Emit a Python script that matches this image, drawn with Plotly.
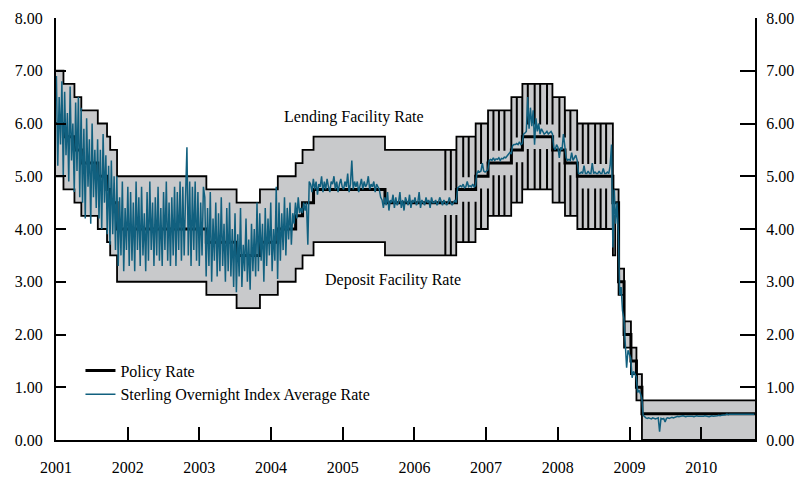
import pandas as pd
import plotly.graph_objects as go

# ---------------- data ----------------
policy_dates = ["2001-01-01", "2001-02-08", "2001-04-05", "2001-05-10", "2001-08-02",
                "2001-09-18", "2001-10-04", "2001-11-08", "2003-02-06", "2003-07-10",
                "2003-11-06", "2004-02-05", "2004-05-06", "2004-06-10", "2004-08-05",
                "2005-08-04", "2006-08-03", "2006-11-09", "2007-01-11", "2007-05-10",
                "2007-07-05", "2007-12-06", "2008-02-07", "2008-04-10", "2008-10-08",
                "2008-11-06", "2008-12-04", "2009-01-08", "2009-02-05", "2009-03-05"]
policy_rates = [6.00, 5.75, 5.50, 5.25, 5.00, 4.75, 4.50, 4.00, 3.75, 3.50,
                3.75, 4.00, 4.25, 4.50, 4.75, 4.50, 4.75, 5.00, 5.25, 5.50,
                5.75, 5.50, 5.25, 5.00, 4.50, 3.00, 2.00, 1.50, 1.00, 0.50]

# standing facility corridor regimes
regime_starts = ["2001-01-01", "2006-05-18", "2008-10-08", "2008-10-20", "2009-03-05"]
lending_spread = [1.00, 1.00, 0.25, 0.25, 0.25]
deposit_spread = [1.00, 1.00, 1.00, 0.25, 0.50]
# last day of reserves maintenance periods (corridor narrowed to +/-0.25)
mp_end_dates = ["2006-06-07", "2006-07-05", "2006-08-02", "2006-09-06", "2006-10-04",
                "2006-11-08", "2006-12-06", "2007-01-10", "2007-02-07", "2007-03-07",
                "2007-04-04", "2007-05-09", "2007-06-06", "2007-07-04", "2007-08-01",
                "2007-09-05", "2007-10-03", "2007-11-07", "2007-12-05", "2008-01-09",
                "2008-02-06", "2008-03-05", "2008-04-09", "2008-05-07", "2008-06-04",
                "2008-07-09", "2008-08-06", "2008-09-03"]
dip_spread = 0.25
end_date = "2010-10-02"

# SONIA, weekly readings by segment
sonia_a_start = "2001-01-03"
sonia_a = [6.9, 5.2, 6.5, 5.6, 6.8,
           5.0, 6.6, 5.4, 6.2, 4.9, 6.7, 5.3, 6.0,
           4.7, 6.4, 5.1, 6.5, 4.6,
           6.3, 4.5, 5.9, 4.2, 6.1, 4.8, 5.7, 4.1, 6.0, 4.6, 5.5, 4.4,
           5.7, 4.2, 5.5, 4.0, 5.8, 4.5,
           5.4, 3.9, 5.2,
           3.7, 5.3, 3.9, 5.0, 3.6,
           5.0, 3.3, 4.6, 3.5, 4.9, 3.2, 4.4, 3.6, 4.8, 3.3,
           4.7, 3.4, 4.5, 3.2, 4.9, 3.6, 4.6, 3.3, 4.8, 3.5,
           4.3, 3.2, 4.7, 3.4, 4.9, 3.6, 4.5, 3.3, 4.6, 3.5,
           4.8, 3.4, 4.4, 3.3, 4.7, 3.6, 4.9, 3.4, 4.5, 3.3,
           4.6, 3.5, 4.8, 3.3, 4.7, 3.6, 4.9, 3.4, 4.8, 3.5,
           4.6, 5.55, 3.5, 4.9, 3.3, 4.8, 3.6, 4.9, 3.4, 4.7,
           3.3, 4.5, 3.5, 4.8,
           4.6, 3.1, 4.4, 3.3, 4.7, 3.0, 4.2, 3.4, 4.5, 3.1, 4.3, 3.2, 4.6, 3.3,
           4.1, 3.0, 4.4, 3.2, 4.5, 3.1, 4.0, 2.9,
           4.3, 2.8, 3.9, 3.1, 4.4, 2.9, 3.7, 3.2, 4.2, 3.0, 3.8, 2.85, 4.1, 3.2,
           4.0, 3.1, 4.5,
           3.2, 4.3, 3.4, 4.1, 3.0, 4.4, 3.3, 4.2, 3.5, 4.5, 3.2, 4.0, 3.4,
           4.8, 3.05, 4.5, 3.4, 4.3, 3.6, 4.6, 3.5, 4.4, 3.8, 4.5, 3.7, 4.3,
           4.1, 4.5, 4.2, 4.6, 4.3,
           4.4, 4.3, 4.5, 4.35, 4.5, 3.7, 4.9]
sonia_b_start = "2004-07-21"
sonia_b = [4.85, 4.7, 4.95, 4.75, 4.9, 4.65, 4.85, 4.8, 5.0, 4.7,
           4.9, 4.75, 4.95, 4.8, 4.7, 4.9, 4.85, 5.0, 4.75, 4.9,
           4.7, 4.85, 4.95, 4.8, 4.75, 4.9, 4.8, 5.05, 4.7, 4.85,
           5.3, 4.75, 4.9, 4.8, 4.9, 4.7, 4.85, 4.95, 4.75, 4.9,
           4.8, 4.85, 5.0, 4.75, 4.85, 4.8, 4.9, 4.7, 4.85, 4.8,
           4.75, 4.6,
           4.55, 4.4, 4.6, 4.45, 4.7, 4.35, 4.55, 4.5, 4.65, 4.4,
           4.6, 4.45, 4.5, 4.7, 4.4, 4.55, 4.35, 4.6, 4.5, 4.45,
           4.65, 4.4, 4.55, 4.5, 4.6, 4.45, 4.5, 4.7, 4.4, 4.55,
           4.5, 4.45, 4.6, 4.5, 4.55, 4.4, 4.6, 4.5, 4.5, 4.55,
           4.45, 4.5, 4.6]
sonia_c_start = "2006-05-17"
sonia_c = [4.5, 4.45, 4.55, 4.5, 4.45, 4.5, 4.6, 4.5, 4.45, 4.5, 4.55, 4.5,
           4.78, 4.8, 4.82, 4.8, 4.85, 4.78, 4.8, 4.9, 4.8, 4.82, 4.8, 4.85, 4.8, 4.82,
           5.05, 5.1, 5.08, 5.1, 5.25, 5.1, 5.08, 5.1, 5.12,
           5.3, 5.32, 5.3, 5.35, 5.3, 5.33, 5.32, 5.35, 5.3, 5.34, 5.33, 5.36, 5.35,
           5.38, 5.4, 5.45, 5.42,
           5.58, 5.6, 5.6, 5.62, 5.6, 5.65, 5.6, 5.62,
           5.8, 5.82, 5.85, 6.5, 5.9, 6.3, 5.95, 6.25, 5.6, 6.1, 5.85, 6.0, 5.8, 5.9,
           5.85, 5.8, 5.82, 5.85, 5.8, 5.82, 5.85, 5.8,
           5.55, 5.5, 5.6, 5.55, 5.35, 5.55, 5.5, 5.8, 5.55,
           5.35, 5.3, 5.32, 5.3, 5.45, 5.3, 5.35, 5.4, 5.3,
           5.05, 5.05, 5.08, 5.05, 5.2, 5.05, 5.05, 5.1, 5.05, 5.05, 5.25, 5.05, 5.08,
           5.05, 5.05, 5.1, 5.05, 5.05, 5.15, 5.05, 5.05, 5.08, 5.05, 5.2, 5.6]
sonia_d_start = "2008-10-08"
sonia_d = [3.65, 4.75, 4.1, 4.5, 3.9, 2.75, 2.9, 2.45, 2.3, 1.75, 1.37, 1.7, 1.6,
           1.55, 1.18, 1.3, 1.25, 1.2, 0.9, 0.95, 0.88, 0.8]
sonia_e_start = "2009-03-11"
sonia_e = [0.47, 0.44, 0.42, 0.41, 0.42, 0.41, 0.40, 0.42, 0.41, 0.40, 0.41, 0.42,
           0.16, 0.41, 0.40, 0.41, 0.34, 0.41, 0.42, 0.41, 0.42, 0.43, 0.42, 0.43, 0.44,
           0.45, 0.44, 0.45, 0.45, 0.46, 0.45, 0.44, 0.45, 0.45, 0.46, 0.45, 0.45, 0.44,
           0.45, 0.46, 0.45, 0.45, 0.44, 0.45, 0.45, 0.46, 0.45, 0.45, 0.44, 0.45, 0.46,
           0.45, 0.45, 0.46, 0.46, 0.47, 0.46, 0.47, 0.47, 0.48,
           0.48, 0.49, 0.48, 0.49, 0.49, 0.48, 0.49, 0.49, 0.48, 0.49, 0.49, 0.49,
           0.48, 0.49, 0.49, 0.49, 0.48, 0.49, 0.49, 0.49, 0.48, 0.49]

year_ticks = list(range(2001, 2011))
y_ticks = [0, 1, 2, 3, 4, 5, 6, 7, 8]
y_ticktext = [f"{v:.2f}" for v in y_ticks]

# ---------------- build series ----------------
pol = pd.Series(policy_rates, index=pd.to_datetime(policy_dates))
reg = pd.to_datetime(regime_starts)
mp = pd.to_datetime(mp_end_dates)
one_day = pd.Timedelta(days=1)
end = pd.Timestamp(end_date)

events = set(pol.index) | set(reg) | set(mp) | set(mp + one_day) | {end}
events = sorted(events)
band_x, lend_y, dep_y = [], [], []
for d in events:
    p = pol.asof(d)
    r = max(i for i, s in enumerate(reg) if s <= d)
    dip = any((m <= d) and (d < m + one_day) for m in mp) and r == 1
    ls = dip_spread if dip else lending_spread[r]
    ds = dip_spread if dip else deposit_spread[r]
    band_x.append(d)
    lend_y.append(p + ls)
    dep_y.append(p - ds)

pol_x = list(pol.index) + [end]
pol_y = list(pol.values) + [pol.values[-1]]

sonia_x, sonia_y = [], []
for start, vals in [(sonia_a_start, sonia_a), (sonia_b_start, sonia_b),
                    (sonia_c_start, sonia_c), (sonia_d_start, sonia_d),
                    (sonia_e_start, sonia_e)]:
    sonia_x += list(pd.date_range(start, periods=len(vals), freq="7D"))
    sonia_y += vals

# ---------------- figure ----------------
FONT = "Liberation Serif"
GRAY = "#c8c9cb"
TEAL = "#11607f"

fig = go.Figure()
fig.add_trace(go.Scatter(x=band_x, y=dep_y, mode="lines", line=dict(width=0, shape="hv"),
                         showlegend=False, hoverinfo="skip"))
fig.add_trace(go.Scatter(x=band_x, y=lend_y, mode="lines", line=dict(width=0, shape="hv"),
                         fill="tonexty", fillcolor=GRAY, showlegend=False, hoverinfo="skip"))
fig.add_trace(go.Scatter(x=band_x, y=lend_y, mode="lines",
                         line=dict(color="black", width=1.8, shape="hv"),
                         showlegend=False, hoverinfo="skip"))
fig.add_trace(go.Scatter(x=band_x, y=dep_y, mode="lines",
                         line=dict(color="black", width=1.8, shape="hv"),
                         showlegend=False, hoverinfo="skip"))
fig.add_trace(go.Scatter(x=pol_x, y=pol_y, mode="lines", name="Policy Rate",
                         line=dict(color="black", width=3, shape="hv")))
fig.add_trace(go.Scatter(x=sonia_x, y=sonia_y, mode="lines",
                         name="Sterling Overnight Index Average Rate",
                         line=dict(color=TEAL, width=1.5)))
# anchor trace for right axis
fig.add_trace(go.Scatter(x=[pol_x[0]], y=[0], yaxis="y2", mode="lines",
                         line=dict(width=0), showlegend=False, hoverinfo="skip"))

fig.add_annotation(x="2005-03-01", y=6.12, text="Lending Facility Rate", showarrow=False,
                   font=dict(family=FONT, size=16, color="black"))
fig.add_annotation(x="2005-09-15", y=3.04, text="Deposit Facility Rate", showarrow=False,
                   font=dict(family=FONT, size=16, color="black"))

axis_font = dict(family=FONT, size=16, color="black")
# the page body adds an 8px offset, so the figure is 8px smaller than the window
fig.update_layout(
    width=795, height=472,
    margin=dict(l=48, r=48, t=10, b=40, autoexpand=False),
    paper_bgcolor="white", plot_bgcolor="white",
    font=dict(family=FONT, size=16, color="black"),
    showlegend=True,
    legend=dict(x=0.035, y=0.205, xanchor="left", yanchor="top",
                traceorder="normal",
                bgcolor="rgba(0,0,0,0)", font=dict(family=FONT, size=16),
                tracegroupgap=0, itemwidth=30),
    xaxis=dict(type="date", range=["2001-01-01", end_date], automargin=False,
               tickvals=[f"{y}-01-01" for y in year_ticks],
               ticktext=[str(y) for y in year_ticks],
               ticks="inside", ticklen=13, tickwidth=2, tickcolor="black",
               showline=True, linecolor="black", linewidth=2,
               showgrid=False, zeroline=False, tickfont=axis_font,
               ticklabelstandoff=12, ticklabeloverflow="allow"),
    yaxis=dict(range=[0, 8], tickvals=y_ticks, ticktext=y_ticktext, automargin=False,
               ticks="inside", ticklen=10, tickwidth=2, tickcolor="black",
               showline=True, linecolor="black", linewidth=2,
               showgrid=False, zeroline=False, tickfont=axis_font,
               ticklabelstandoff=8, ticklabeloverflow="allow"),
    yaxis2=dict(range=[0, 8], tickvals=y_ticks, ticktext=y_ticktext, automargin=False,
                overlaying="y", side="right",
                ticks="inside", ticklen=15, tickwidth=2, tickcolor="black",
                showline=True, linecolor="black", linewidth=2,
                showgrid=False, zeroline=False, tickfont=axis_font,
                ticklabelstandoff=6, ticklabeloverflow="allow"),
)

fig.write_html("out.html")
